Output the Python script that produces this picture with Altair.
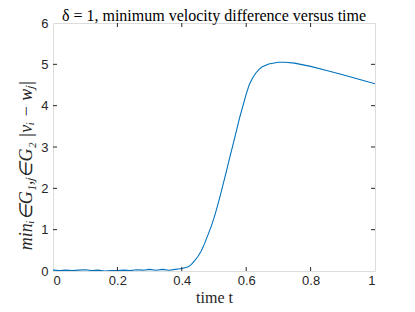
import altair as alt
import pandas as pd

t_vals = [0.00, 0.02, 0.04, 0.06, 0.08, 0.10, 0.12, 0.14, 0.16, 0.18, 0.20, 0.22, 0.24, 0.26,
          0.28, 0.30, 0.32, 0.34, 0.36, 0.38, 0.39, 0.40, 0.41, 0.42, 0.43, 0.44, 0.45, 0.46,
          0.47, 0.48, 0.49, 0.50, 0.51, 0.52, 0.53, 0.54, 0.55, 0.56, 0.57, 0.58, 0.59, 0.60,
          0.61, 0.62, 0.63, 0.64, 0.65, 0.67, 0.70, 0.72, 0.75, 0.80, 0.85, 0.90, 0.95, 1.00]
v_vals = [0.02, 0.01, 0.02, 0.01, 0.02, 0.03, 0.01, 0.02, 0.00, 0.01, 0.01, 0.02, 0.01, 0.03,
          0.02, 0.04, 0.02, 0.04, 0.02, 0.04, 0.05, 0.06, 0.08, 0.10, 0.16, 0.25, 0.35, 0.48,
          0.65, 0.85, 1.05, 1.28, 1.55, 1.84, 2.15, 2.46, 2.78, 3.09, 3.40, 3.72, 4.00, 4.28,
          4.52, 4.67, 4.79, 4.88, 4.94, 5.01, 5.05, 5.05, 5.03, 4.95, 4.85, 4.75, 4.64, 4.53]

x_ticks = [0, 0.2, 0.4, 0.6, 0.8, 1]
y_ticks = [0, 1, 2, 3, 4, 5, 6]

W, H = 322, 248
df = pd.DataFrame({"t": t_vals, "v": v_vals})
AX = "#262626"
SERIF = "Liberation Serif"

xs = alt.Scale(domain=[0, 1], nice=False)
ys = alt.Scale(domain=[0, 6], nice=False)

line = alt.Chart(df).mark_line(color="#0072BD", strokeWidth=1.1, clip=True).encode(
    x=alt.X("t:Q", scale=xs, axis=alt.Axis(values=x_ticks, title="time t", grid=False,
            tickSize=0, labelPadding=3, domain=False, labelFont="Liberation Sans",
            labelFontSize=13, labelColor=AX, titleFont=SERIF,
            titleFontSize=16, titleFontWeight="normal", titleColor=AX, titlePadding=2,
            format="~g")),
    y=alt.Y("v:Q", scale=ys, axis=alt.Axis(values=y_ticks, title="minᵢ∈G₁,ⱼ∈G₂ |vᵢ − wⱼ|",
            grid=False, tickSize=0, labelPadding=5, domain=False, labelFont="Liberation Sans",
            labelFontSize=13, labelColor=AX, titleFont=SERIF,
            titleFontSize=18, titleFontWeight="normal", titleFontStyle="italic",
            titleColor=AX, titleX=-18, titleY=142, titleBaseline="bottom",
            titleAlign="center", titleAngle=270)),
)

xt = pd.DataFrame({"t": x_ticks[1:-1]})
yt = pd.DataFrame({"v": y_ticks[1:-1]})
tb = alt.Chart(xt).mark_rule(color=AX, strokeWidth=1).encode(
    x=alt.X("t:Q", scale=xs), y=alt.value(H), y2=alt.value(H - 4))
tt = alt.Chart(xt).mark_rule(color=AX, strokeWidth=1).encode(
    x=alt.X("t:Q", scale=xs), y=alt.value(0), y2=alt.value(4))
tl = alt.Chart(yt).mark_rule(color=AX, strokeWidth=1).encode(
    y=alt.Y("v:Q", scale=ys), x=alt.value(0), x2=alt.value(4))
tr = alt.Chart(yt).mark_rule(color=AX, strokeWidth=1).encode(
    y=alt.Y("v:Q", scale=ys), x=alt.value(W), x2=alt.value(W - 4))

chart = alt.layer(line, tb, tt, tl, tr).properties(
    width=W, height=H,
    autosize=alt.AutoSizeParams(type="none"),
    padding={"left": 45, "top": 15, "right": 32, "bottom": 33},
    title=alt.TitleParams("δ = 1, minimum velocity difference versus time",
                          font=SERIF, fontSize=16, fontWeight="normal",
                          color="black", offset=-7),
).configure_view(stroke=AX, strokeWidth=1).configure(background="white")

chart.save("out.html", embed_options={"renderer": "svg", "actions": False})
